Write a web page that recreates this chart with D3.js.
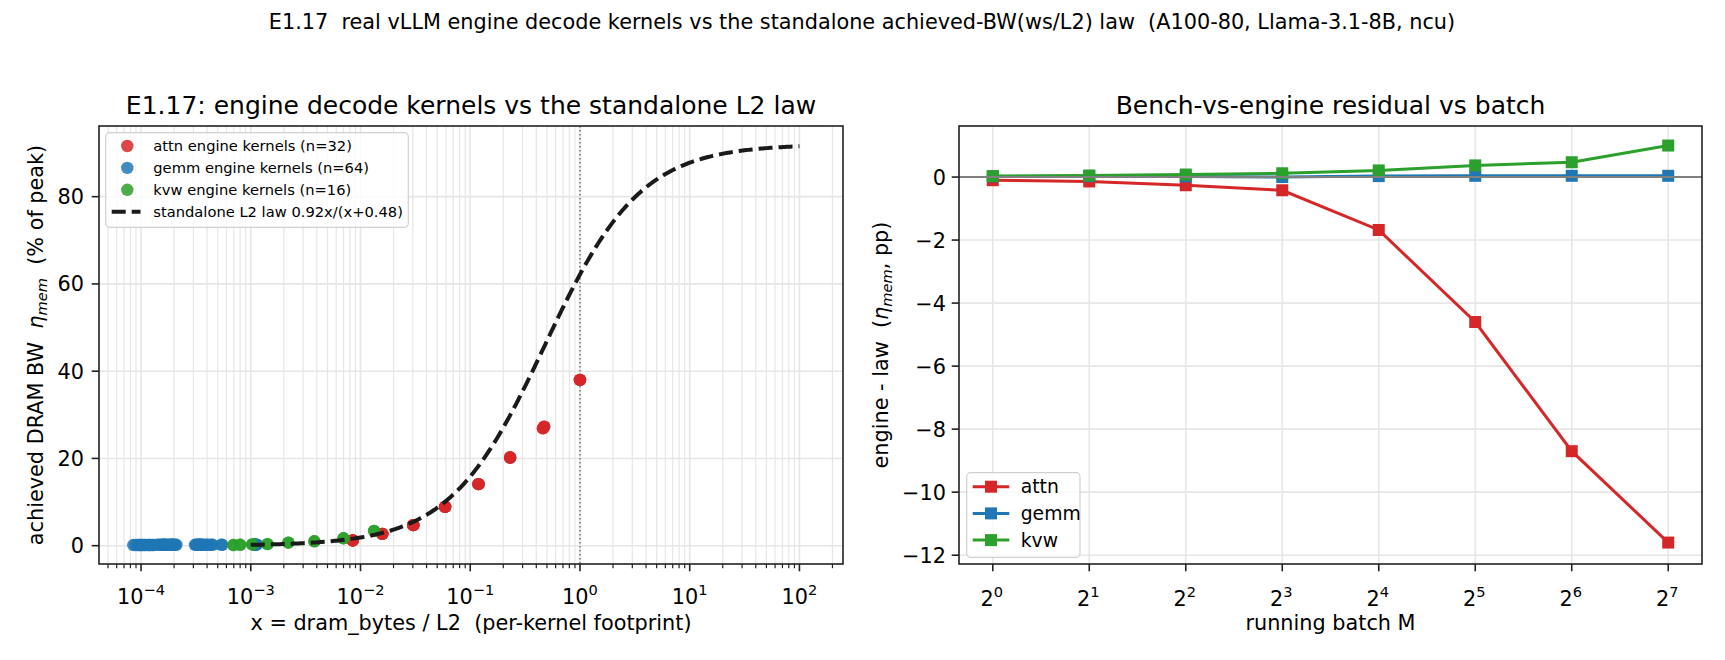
<!doctype html>
<html>
<head>
<style>
body { margin: 0; background: #fff; }
text { font-family: "DejaVu Sans", sans-serif; fill: #000; white-space: pre; }
</style>
</head>
<body>
<script src="https://d3js.org/d3.v7.min.js"></script>
<script>
// ---- data ----
// left panel: per-kernel footprint x = dram_bytes / L2 and achieved eta_mem (%)
var attnX = [0.0085, 0.0085, 0.0085, 0.0085, 0.0158, 0.0158, 0.0158, 0.0158,
             0.0303, 0.0303, 0.0303, 0.0303, 0.059, 0.059, 0.059, 0.059,
             0.119, 0.119, 0.119, 0.119, 0.231, 0.231, 0.231, 0.231,
             0.472, 0.472, 0.46, 0.46, 1.0, 1.0, 1.0, 1.0];
var attnY = [1.2, 1.2, 1.2, 1.2, 2.7, 2.7, 2.7, 2.7,
             4.7, 4.7, 4.7, 4.7, 8.9, 8.9, 8.9, 8.9,
             14.1, 14.1, 14.1, 14.1, 20.2, 20.2, 20.2, 20.2,
             27.3, 27.3, 26.9, 26.9, 38.0, 38.0, 38.0, 38.0];
var gemmX = [8.5e-5, 8.9e-5, 9.3e-5, 9.7e-5, 1.0e-4, 1.05e-4, 1.1e-4, 1.15e-4,
             1.2e-4, 1.25e-4, 1.3e-4, 1.02e-4, 9.5e-5, 1.08e-4, 1.18e-4, 1.28e-4,
             1.45e-4, 1.5e-4, 1.55e-4, 1.6e-4, 1.65e-4, 1.7e-4, 1.75e-4, 1.8e-4,
             1.85e-4, 1.9e-4, 1.95e-4, 2.0e-4, 2.05e-4, 2.1e-4, 1.62e-4, 1.92e-4,
             3.1e-4, 3.2e-4, 3.3e-4, 3.4e-4, 3.5e-4, 3.6e-4, 3.3e-4, 3.45e-4,
             3.9e-4, 4.0e-4, 4.4e-4, 4.5e-4, 5.4e-4, 5.5e-4, 3.7e-4, 4.2e-4,
             1.05e-3, 1.07e-3, 1.09e-3, 1.1e-3, 1.12e-3, 1.14e-3, 1.08e-3, 1.11e-3,
             1.2e-4, 1.6e-4, 1.9e-4, 3.2e-4, 1.0e-4, 1.4e-4, 3.5e-4, 1.1e-3];
var gemmY = [0.15, 0.15, 0.15, 0.15, 0.15, 0.15, 0.15, 0.15,
             0.15, 0.15, 0.15, 0.15, 0.15, 0.15, 0.15, 0.15,
             0.2, 0.2, 0.2, 0.2, 0.2, 0.2, 0.2, 0.2,
             0.2, 0.2, 0.2, 0.2, 0.2, 0.2, 0.2, 0.2,
             0.2, 0.2, 0.2, 0.2, 0.2, 0.2, 0.2, 0.2,
             0.2, 0.2, 0.2, 0.2, 0.2, 0.2, 0.2, 0.2,
             0.25, 0.25, 0.25, 0.25, 0.25, 0.25, 0.25, 0.25,
             0.15, 0.2, 0.2, 0.2, 0.15, 0.2, 0.2, 0.25];
var kvwX = [6.95e-4, 6.95e-4, 8.0e-4, 8.0e-4, 1.03e-3, 1.03e-3, 1.42e-3, 1.42e-3,
            2.2e-3, 2.2e-3, 3.8e-3, 3.8e-3, 7.0e-3, 7.0e-3, 0.0133, 0.0133];
var kvwY = [0.15, 0.15, 0.2, 0.2, 0.3, 0.3, 0.35, 0.35,
            0.7, 0.7, 1.0, 1.0, 1.7, 1.7, 3.4, 3.4];
// standalone law eta = a*x/(x+b), drawn from 1e-3 to 1e2
var lawA = 0.92, lawB = 0.48;
var lawRange = [1e-3, 1e2];

// right panel: residual engine - law (pp) vs running batch M
var batches = [1, 2, 4, 8, 16, 32, 64, 128];
var residAttn = [-0.1, -0.14, -0.26, -0.42, -1.68, -4.6, -8.7, -11.6];
var residGemm = [0.02, 0.03, 0.02, 0.0, 0.03, 0.04, 0.04, 0.04];
var residKvw = [0.03, 0.05, 0.08, 0.12, 0.21, 0.37, 0.47, 1.0];

var leftYTicks = [0, 20, 40, 60, 80];
var leftXExps = [-4, -3, -2, -1, 0, 1, 2];
var rightYTicks = [0, -2, -4, -6, -8, -10, -12];
var rightXExps = [0, 1, 2, 3, 4, 5, 6, 7];

var colors = { attn: "#d62728", gemm: "#1f77b4", kvw: "#2ca02c" };

// ---- svg ----
var W = 1725, H = 660;
var svg = d3.select("body").append("svg")
    .attr("width", W).attr("height", H);

var gridColor = "#e6e6e6";
var tickFont = 20.8;
var minus = function (v) { return String(v).replace("-", "\u2212"); };

svg.append("text")
    .attr("x", 862).attr("y", 29)
    .attr("text-anchor", "middle")
    .attr("font-size", 20.8)
    .text("E1.17  real vLLM engine decode kernels vs the standalone achieved-BW(ws/L2) law  (A100-80, Llama-3.1-8B, ncu)");

// ================= left panel =================
var L = { left: 99, right: 843, top: 126, bottom: 564 };
var xL = d3.scaleLog().domain([Math.pow(10, -4.383), Math.pow(10, 2.397)]).range([L.left, L.right]);
var yL = d3.scaleLinear().domain([-4.2, 96.2]).range([L.bottom, L.top]);

var gl = svg.append("g");
svg.append("clipPath").attr("id", "clipL").append("rect")
    .attr("x", L.left).attr("y", L.top).attr("width", L.right - L.left).attr("height", L.bottom - L.top);

// minor ticks of the log axis
var minorL = [];
for (var k = -5; k <= 2; k++) {
    for (var m = 2; m <= 9; m++) {
        var v = m * Math.pow(10, k);
        if (xL(v) > L.left && xL(v) < L.right) minorL.push(v);
    }
}
var majorL = leftXExps.map(function (e) { return Math.pow(10, e); });

gl.selectAll(".gmin").data(minorL).enter().append("line")
    .attr("x1", xL).attr("x2", xL).attr("y1", L.top).attr("y2", L.bottom)
    .attr("stroke", gridColor).attr("stroke-width", 1.2);
gl.selectAll(".gmaj").data(majorL).enter().append("line")
    .attr("x1", xL).attr("x2", xL).attr("y1", L.top).attr("y2", L.bottom)
    .attr("stroke", gridColor).attr("stroke-width", 1.6);
gl.selectAll(".gy").data(leftYTicks).enter().append("line")
    .attr("x1", L.left).attr("x2", L.right).attr("y1", yL).attr("y2", yL)
    .attr("stroke", gridColor).attr("stroke-width", 1.6);

// vertical dotted line at x = 1
gl.append("line")
    .attr("x1", xL(1)).attr("x2", xL(1)).attr("y1", L.top).attr("y2", L.bottom)
    .attr("stroke", "#777").attr("stroke-width", 1.5).attr("stroke-dasharray", "1.5,2.5");

function pts(xs, ys) { return xs.map(function (x, i) { return [x, ys[i]]; }); }

var plotL = gl.append("g").attr("clip-path", "url(#clipL)");
[["attn", attnX, attnY], ["gemm", gemmX, gemmY], ["kvw", kvwX, kvwY]].forEach(function (s) {
    plotL.selectAll(".p" + s[0]).data(pts(s[1], s[2])).enter().append("circle")
        .attr("cx", function (d) { return xL(d[0]); })
        .attr("cy", function (d) { return yL(d[1]); })
        .attr("r", 6.2)
        .attr("fill", colors[s[0]])
        .attr("fill-opacity", 0.85);
});

// law curve
var lawX = d3.range(0, 301).map(function (i) {
    var lo = Math.log10(lawRange[0]), hi = Math.log10(lawRange[1]);
    return Math.pow(10, lo + (hi - lo) * i / 300);
});
plotL.append("path")
    .datum(lawX)
    .attr("d", d3.line()
        .x(function (x) { return xL(x); })
        .y(function (x) { return yL(100 * lawA * x / (x + lawB)); }))
    .attr("fill", "none")
    .attr("stroke", "#1a1a1a")
    .attr("stroke-width", 4)
    .attr("stroke-dasharray", "14,6");

// spines
gl.append("rect")
    .attr("x", L.left).attr("y", L.top).attr("width", L.right - L.left).attr("height", L.bottom - L.top)
    .attr("fill", "none").attr("stroke", "#222").attr("stroke-width", 1.6);

// x ticks
gl.selectAll(".tmin").data(minorL).enter().append("line")
    .attr("x1", xL).attr("x2", xL).attr("y1", L.bottom).attr("y2", L.bottom + 4.2)
    .attr("stroke", "#222").attr("stroke-width", 1.2);
gl.selectAll(".tmaj").data(majorL).enter().append("line")
    .attr("x1", xL).attr("x2", xL).attr("y1", L.bottom).attr("y2", L.bottom + 7.3)
    .attr("stroke", "#222").attr("stroke-width", 1.6);
leftXExps.forEach(function (e) {
    var t = gl.append("text")
        .attr("x", xL(Math.pow(10, e))).attr("y", 604)
        .attr("text-anchor", "middle").attr("font-size", tickFont);
    t.append("tspan").text("10");
    t.append("tspan").attr("dy", -9).attr("font-size", 14.6).text(minus(e));
});

// y ticks
gl.selectAll(".ty").data(leftYTicks).enter().append("line")
    .attr("x1", L.left - 7.3).attr("x2", L.left).attr("y1", yL).attr("y2", yL)
    .attr("stroke", "#222").attr("stroke-width", 1.6);
gl.selectAll(".tyl").data(leftYTicks).enter().append("text")
    .attr("x", L.left - 15).attr("y", function (d) { return yL(d) + 7.5; })
    .attr("text-anchor", "end").attr("font-size", tickFont)
    .text(function (d) { return d; });

// labels and title
gl.append("text")
    .attr("x", (L.left + L.right) / 2).attr("y", 114)
    .attr("text-anchor", "middle").attr("font-size", 25)
    .text("E1.17: engine decode kernels vs the standalone L2 law");
gl.append("text")
    .attr("x", (L.left + L.right) / 2).attr("y", 630)
    .attr("text-anchor", "middle").attr("font-size", tickFont)
    .text("x = dram_bytes / L2  (per-kernel footprint)");
var yl = gl.append("text")
    .attr("transform", "translate(43," + (L.top + L.bottom) / 2 + ") rotate(-90)")
    .attr("text-anchor", "middle").attr("font-size", tickFont);
yl.append("tspan").text("achieved DRAM BW  ");
yl.append("tspan").attr("font-style", "italic").text("\u03b7");
yl.append("tspan").attr("font-style", "italic").attr("font-size", 14.6).attr("dy", 4).text("mem");
yl.append("tspan").attr("dy", -4).text("  (% of peak)");

// left legend
var lg = gl.append("g");
lg.append("rect")
    .attr("x", 105.7).attr("y", 132.7).attr("width", 302.6).attr("height", 94.6)
    .attr("rx", 4).attr("fill", "#fff").attr("fill-opacity", 0.8)
    .attr("stroke", "#d0d0d0").attr("stroke-width", 1.2);
var legL = [["attn", "attn engine kernels (n=" + attnX.length + ")"],
            ["gemm", "gemm engine kernels (n=" + gemmX.length + ")"],
            ["kvw", "kvw engine kernels (n=" + kvwX.length + ")"]];
legL.forEach(function (d, i) {
    var y = 146 + i * 21.9;
    lg.append("circle").attr("cx", 127.3).attr("cy", y).attr("r", 6.2)
        .attr("fill", colors[d[0]]).attr("fill-opacity", 0.85);
    lg.append("text").attr("x", 153.3).attr("y", y + 5.2).attr("font-size", 14.7).text(d[1]);
});
lg.append("line").attr("x1", 111.7).attr("x2", 140.5).attr("y1", 211.7).attr("y2", 211.7)
    .attr("stroke", "#1a1a1a").attr("stroke-width", 4).attr("stroke-dasharray", "14,6");
lg.append("text").attr("x", 153.3).attr("y", 211.7 + 5.2).attr("font-size", 14.7)
    .text("standalone L2 law " + lawA + "x/(x+" + lawB + ")");

// ================= right panel =================
var R = { left: 959, right: 1702, top: 126, bottom: 564 };
var xR = d3.scaleLog().base(2).domain([Math.pow(2, -0.35), Math.pow(2, 7.35)]).range([R.left, R.right]);
var yR = d3.scaleLinear().domain([-12.28, 1.62]).range([R.bottom, R.top]);

var gr = svg.append("g");
gr.selectAll(".gx").data(batches).enter().append("line")
    .attr("x1", xR).attr("x2", xR).attr("y1", R.top).attr("y2", R.bottom)
    .attr("stroke", gridColor).attr("stroke-width", 1.6);
gr.selectAll(".gy").data(rightYTicks).enter().append("line")
    .attr("x1", R.left).attr("x2", R.right).attr("y1", yR).attr("y2", yR)
    .attr("stroke", gridColor).attr("stroke-width", 1.6);

var lineR = d3.line()
    .x(function (d) { return xR(d[0]); })
    .y(function (d) { return yR(d[1]); });
var seriesR = [["attn", residAttn], ["gemm", residGemm], ["kvw", residKvw]];
seriesR.forEach(function (s) {
    var data = batches.map(function (b, i) { return [b, s[1][i]]; });
    gr.append("path").datum(data).attr("d", lineR)
        .attr("fill", "none").attr("stroke", colors[s[0]]).attr("stroke-width", 3);
    gr.selectAll(".m" + s[0]).data(data).enter().append("rect")
        .attr("x", function (d) { return xR(d[0]) - 6; })
        .attr("y", function (d) { return yR(d[1]) - 6; })
        .attr("width", 12).attr("height", 12)
        .attr("fill", colors[s[0]]);
});
// zero line
gr.append("line")
    .attr("x1", R.left).attr("x2", R.right).attr("y1", yR(0)).attr("y2", yR(0))
    .attr("stroke", "#808080").attr("stroke-width", 2);

gr.append("rect")
    .attr("x", R.left).attr("y", R.top).attr("width", R.right - R.left).attr("height", R.bottom - R.top)
    .attr("fill", "none").attr("stroke", "#222").attr("stroke-width", 1.6);

gr.selectAll(".tx").data(batches).enter().append("line")
    .attr("x1", xR).attr("x2", xR).attr("y1", R.bottom).attr("y2", R.bottom + 7.3)
    .attr("stroke", "#222").attr("stroke-width", 1.6);
rightXExps.forEach(function (e) {
    var t = gr.append("text")
        .attr("x", xR(Math.pow(2, e)) - 1).attr("y", 606)
        .attr("text-anchor", "middle").attr("font-size", tickFont);
    t.append("tspan").text("2");
    t.append("tspan").attr("dy", -9).attr("font-size", 14.6).text(e);
});
gr.selectAll(".ty").data(rightYTicks).enter().append("line")
    .attr("x1", R.left - 7.3).attr("x2", R.left).attr("y1", yR).attr("y2", yR)
    .attr("stroke", "#222").attr("stroke-width", 1.6);
gr.selectAll(".tyl").data(rightYTicks).enter().append("text")
    .attr("x", R.left - 13).attr("y", function (d) { return yR(d) + 7.5; })
    .attr("text-anchor", "end").attr("font-size", tickFont)
    .text(function (d) { return minus(d); });

gr.append("text")
    .attr("x", (R.left + R.right) / 2).attr("y", 114)
    .attr("text-anchor", "middle").attr("font-size", 25)
    .text("Bench-vs-engine residual vs batch");
gr.append("text")
    .attr("x", (R.left + R.right) / 2).attr("y", 630)
    .attr("text-anchor", "middle").attr("font-size", tickFont)
    .text("running batch M");
var yr = gr.append("text")
    .attr("transform", "translate(888," + (R.top + R.bottom) / 2 + ") rotate(-90)")
    .attr("text-anchor", "middle").attr("font-size", tickFont);
yr.append("tspan").text("engine - law  (");
yr.append("tspan").attr("font-style", "italic").text("\u03b7");
yr.append("tspan").attr("font-style", "italic").attr("font-size", 14.6).attr("dy", 4).text("mem");
yr.append("tspan").attr("dy", -4).text(", pp)");

// right legend
var rg = gr.append("g");
rg.append("rect")
    .attr("x", 966.7).attr("y", 472.7).attr("width", 113.3).attr("height", 84.6)
    .attr("rx", 4).attr("fill", "#fff").attr("fill-opacity", 0.8)
    .attr("stroke", "#d0d0d0").attr("stroke-width", 1.2);
seriesR.forEach(function (s, i) {
    var y = 486.7 + i * 26.7;
    rg.append("line").attr("x1", 972.7).attr("x2", 1009.3).attr("y1", y).attr("y2", y)
        .attr("stroke", colors[s[0]]).attr("stroke-width", 3);
    rg.append("rect").attr("x", 991 - 6).attr("y", y - 6).attr("width", 12).attr("height", 12)
        .attr("fill", colors[s[0]]);
    rg.append("text").attr("x", 1020.7).attr("y", y + 6.5).attr("font-size", 18.75).text(s[0]);
});
</script>
</body>
</html>
